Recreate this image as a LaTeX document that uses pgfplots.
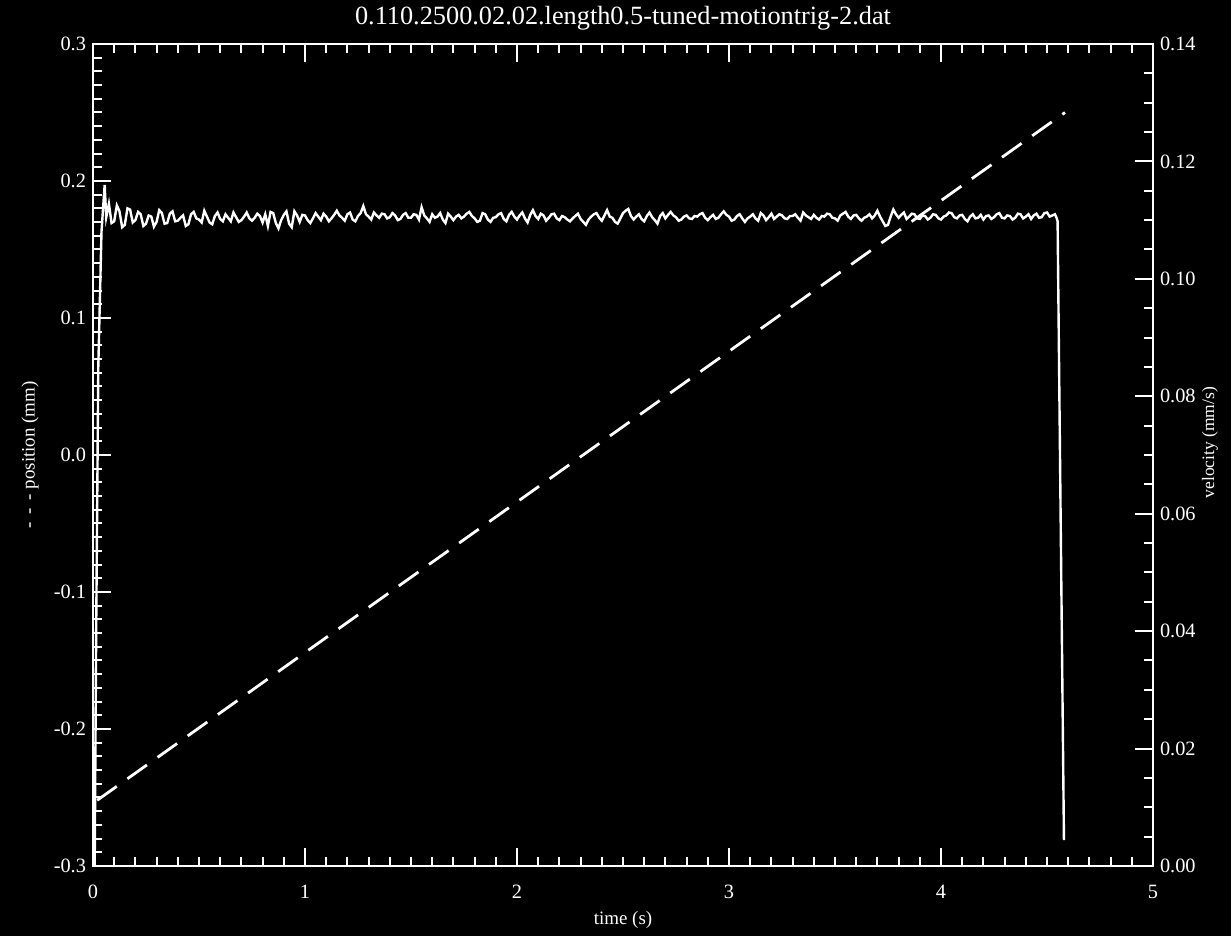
\documentclass[border=0pt]{standalone}
\usepackage{pgfplots}
\pgfplotsset{compat=1.18}
\usepackage{fontspec}
\setmainfont{Liberation Serif}

\pgfplotsset{
  chart/.style={
    scale only axis, width=530bp, height=411bp,
    xmin=0, xmax=5,
    axis line style={white, line width=1.3bp},
    tick style={white, line width=1bp},
    tick align=inside,
    major tick length=9bp, minor tick length=4.5bp,
    tick label style={white, font=\fontsize{10.2}{12}\selectfont},
    label style={white, font=\fontsize{9.5}{11}\selectfont},
    /pgf/number format/assume math mode=true,
  }
}

\begin{document}
\begin{tikzpicture}
\fill[black] (-46.5bp,-35bp) rectangle (569bp,433bp);

\begin{axis}[chart,
  ymin=-0.3, ymax=0.3,
  xtick={0,1,2,3,4,5}, minor x tick num=9, xtick pos=both, xticklabel pos=bottom,
  ytick={-0.3,-0.2,-0.1,0,0.1,0.2,0.3}, minor y tick num=9, ytick pos=left,
  yticklabel style={/pgf/number format/fixed, /pgf/number format/fixed zerofill,
    /pgf/number format/precision=1},
  xticklabel style={yshift=-6bp},
  every axis title shift=0pt,
  title={0.110.2500.02.02.length0.5-tuned-motiontrig-2.dat},
  title style={white, font=\fontsize{13.2}{15}\selectfont,
    at={(axis description cs:0.5,1.0316)}, anchor=center},
  xlabel={time (s)},
  xlabel style={at={(axis description cs:0.5,-0.0657)}, anchor=center},
  ylabel={-\, -\, - position (mm)},
  ylabel style={at={(axis description cs:-0.0594,0.5)}, anchor=center},
]
% position (mm), dashed
\addplot[white, line width=1.4bp, dash pattern=on 12bp off 6.5bp]
  coordinates {(0.02,-0.252) (4.585,0.250)};
\end{axis}

\begin{axis}[chart,
  ymin=0, ymax=0.14, hide x axis,
  ytick={0,0.02,0.04,0.06,0.08,0.10,0.12,0.14}, minor y tick num=3,
  ytick pos=right, yticklabel pos=right,
  yticklabel style={/pgf/number format/fixed, /pgf/number format/fixed zerofill,
    /pgf/number format/precision=2},
  ylabel={velocity (mm/s)},
  ylabel style={at={(axis description cs:1.0538,0.515)}, anchor=center,
    font=\fontsize{8.8}{10}\selectfont},
]
% velocity (mm/s)
\addplot[white, line width=1.2bp] coordinates {
(0,0)(0.008,0)(0.015,0.040)(0.025,0.085)(0.04,0.108)(0.055,0.116)(0.0625,0.1105)(0.075,0.1128)(0.0875,0.1095)
(0.1,0.1098)(0.1125,0.1125)(0.125,0.1115)(0.1375,0.1088)(0.15,0.1092)(0.1625,0.1120)(0.175,0.1118)(0.1875,0.1096)
(0.2,0.1100)(0.2125,0.1114)(0.225,0.1110)(0.2375,0.1090)(0.25,0.1094)(0.2625,0.1108)(0.275,0.1106)(0.2875,0.1089)
(0.3,0.1097)(0.3125,0.1117)(0.325,0.1112)(0.3375,0.1094)(0.35,0.1095)(0.3625,0.1111)(0.375,0.1115)(0.3875,0.1098)
(0.4,0.1099)(0.4125,0.1104)(0.425,0.1108)(0.4375,0.1090)(0.45,0.1093)(0.4625,0.1110)(0.475,0.1114)(0.4875,0.1103)
(0.5,0.1101)(0.5125,0.1096)(0.525,0.1116)(0.5375,0.1106)(0.55,0.1096)(0.5625,0.1093)(0.575,0.1107)(0.5875,0.1113)
(0.6,0.1102)(0.6125,0.1098)(0.625,0.1110)(0.6375,0.1104)(0.65,0.1098)(0.6625,0.1113)(0.675,0.1105)(0.6875,0.1097)
(0.7,0.1100)(0.7125,0.1106)(0.725,0.1113)(0.7375,0.1103)(0.75,0.1099)(0.7625,0.1104)(0.775,0.1111)(0.7875,0.1107)
(0.8,0.1096)(0.8125,0.1110)(0.825,0.1090)(0.8375,0.1114)(0.85,0.1112)(0.8625,0.1095)(0.875,0.1086)(0.8875,0.1100)
(0.9,0.1109)(0.9125,0.1115)(0.925,0.1094)(0.9375,0.1088)(0.95,0.1115)(0.9625,0.1108)(0.975,0.1097)(0.9875,0.1109)
(1.0,0.1108)(1.0125,0.1100)(1.025,0.1095)(1.0375,0.1103)(1.05,0.1112)(1.0625,0.1106)(1.075,0.1100)(1.0875,0.1111)
(1.1,0.1106)(1.1125,0.1098)(1.125,0.1103)(1.1375,0.1109)(1.15,0.1116)(1.1625,0.1108)(1.175,0.1104)(1.1875,0.1099)
(1.2,0.1110)(1.2125,0.1113)(1.225,0.1101)(1.2375,0.1098)(1.25,0.1107)(1.2625,0.1112)(1.275,0.1124)(1.2875,0.1110)
(1.3,0.1106)(1.3125,0.1101)(1.325,0.1113)(1.3375,0.1108)(1.35,0.1104)(1.3625,0.1111)(1.375,0.1110)(1.3875,0.1103)
(1.4,0.1105)(1.4125,0.1112)(1.425,0.1108)(1.4375,0.1100)(1.45,0.1102)(1.4625,0.1109)(1.475,0.1112)(1.4875,0.1104)
(1.5,0.1104)(1.5125,0.1110)(1.525,0.1109)(1.5375,0.1101)(1.55,0.1122)(1.5625,0.1108)(1.575,0.1103)(1.5875,0.1097)
(1.6,0.1110)(1.6125,0.1104)(1.625,0.1106)(1.6375,0.1112)(1.65,0.1101)(1.6625,0.1095)(1.675,0.1111)(1.6875,0.1106)
(1.7,0.1100)(1.7125,0.1106)(1.725,0.1109)(1.7375,0.1103)(1.75,0.1106)(1.7625,0.1111)(1.775,0.1114)(1.7875,0.1107)
(1.8,0.1103)(1.8125,0.1097)(1.825,0.1099)(1.8375,0.1112)(1.85,0.1110)(1.8625,0.1101)(1.875,0.1097)(1.8875,0.1104)
(1.9,0.1105)(1.9125,0.1110)(1.925,0.1112)(1.9375,0.1102)(1.95,0.1098)(1.9625,0.1109)(1.975,0.1114)(1.9875,0.1106)
(2.0,0.1101)(2.0125,0.1108)(2.025,0.1113)(2.0375,0.1103)(2.05,0.1096)(2.0625,0.1109)(2.075,0.1117)(2.0875,0.1107)
(2.1,0.1102)(2.1125,0.1111)(2.125,0.1108)(2.1375,0.1099)(2.15,0.1104)(2.1625,0.1110)(2.175,0.1111)(2.1875,0.1103)
(2.2,0.1100)(2.2125,0.1107)(2.225,0.1105)(2.2375,0.1101)(2.25,0.1098)(2.2625,0.1103)(2.275,0.1107)(2.2875,0.1111)
(2.3,0.1102)(2.3125,0.1097)(2.325,0.1092)(2.3375,0.1101)(2.35,0.1106)(2.3625,0.1110)(2.375,0.1112)(2.3875,0.1104)
(2.4,0.1099)(2.4125,0.1108)(2.425,0.1117)(2.4375,0.1106)(2.45,0.1104)(2.4625,0.1097)(2.475,0.1094)(2.4875,0.1103)
(2.5,0.1112)(2.5125,0.1116)(2.525,0.1119)(2.5375,0.1107)(2.55,0.1101)(2.5625,0.1106)(2.575,0.1110)(2.5875,0.1102)
(2.6,0.1098)(2.6125,0.1107)(2.625,0.1113)(2.6375,0.1105)(2.65,0.1100)(2.6625,0.1094)(2.675,0.1107)(2.6875,0.1112)
(2.7,0.1103)(2.7125,0.1109)(2.725,0.1114)(2.7375,0.1108)(2.75,0.1105)(2.7625,0.1099)(2.775,0.1101)(2.7875,0.1106)
(2.8,0.1108)(2.8125,0.1103)(2.825,0.1102)(2.8375,0.1107)(2.85,0.1106)(2.8625,0.1110)(2.875,0.1112)(2.8875,0.1104)
(2.9,0.1100)(2.9125,0.1105)(2.925,0.1109)(2.9375,0.1102)(2.95,0.1104)(2.9625,0.1110)(2.975,0.1115)(2.9875,0.1109)
(3.0,0.1106)(3.0125,0.1099)(3.025,0.1101)(3.0375,0.1107)(3.05,0.1110)(3.0625,0.1103)(3.075,0.1097)(3.0875,0.1103)
(3.1,0.1106)(3.1125,0.1110)(3.125,0.1103)(3.1375,0.1099)(3.15,0.1112)(3.1625,0.1108)(3.175,0.1100)(3.1875,0.1105)
(3.2,0.1111)(3.2125,0.1102)(3.225,0.1106)(3.2375,0.1110)(3.25,0.1108)(3.2625,0.1103)(3.275,0.1102)(3.2875,0.1107)
(3.3,0.1107)(3.3125,0.1110)(3.325,0.1104)(3.3375,0.1099)(3.35,0.1113)(3.3625,0.1108)(3.375,0.1105)(3.3875,0.1102)
(3.4,0.1109)(3.4125,0.1104)(3.425,0.1101)(3.4375,0.1107)(3.45,0.1106)(3.4625,0.1111)(3.475,0.1110)(3.4875,0.1104)
(3.5,0.1103)(3.5125,0.1099)(3.525,0.1108)(3.5375,0.1111)(3.55,0.1114)(3.5625,0.1106)(3.575,0.1102)(3.5875,0.1108)
(3.6,0.1109)(3.6125,0.1103)(3.625,0.1099)(3.6375,0.1104)(3.65,0.1106)(3.6625,0.1110)(3.675,0.1103)(3.6875,0.1108)
(3.7,0.1116)(3.7125,0.1106)(3.725,0.1098)(3.7375,0.1090)(3.75,0.1092)(3.7625,0.1106)(3.775,0.1118)(3.7875,0.1110)
(3.8,0.1104)(3.8125,0.1109)(3.825,0.1113)(3.8375,0.1102)(3.85,0.1106)(3.8625,0.1111)(3.875,0.1110)(3.8875,0.1103)
(3.9,0.1102)(3.9125,0.1108)(3.925,0.1107)(3.9375,0.1101)(3.95,0.1104)(3.9625,0.1110)(3.975,0.1109)(3.9875,0.1103)
(4.0,0.1101)(4.0125,0.1106)(4.025,0.1108)(4.0375,0.1113)(4.05,0.1112)(4.0625,0.1105)(4.075,0.1103)(4.0875,0.1108)
(4.1,0.1109)(4.1125,0.1102)(4.125,0.1098)(4.1375,0.1106)(4.15,0.1110)(4.1625,0.1103)(4.175,0.1104)(4.1875,0.1109)
(4.2,0.1101)(4.2125,0.1107)(4.225,0.1108)(4.2375,0.1102)(4.25,0.1105)(4.2625,0.1110)(4.275,0.1112)(4.2875,0.1104)
(4.3,0.1103)(4.3125,0.1108)(4.325,0.1107)(4.3375,0.1101)(4.35,0.1104)(4.3625,0.1111)(4.375,0.1110)(4.3875,0.1103)
(4.4,0.1106)(4.4125,0.1110)(4.425,0.1102)(4.4375,0.1108)(4.45,0.1111)(4.4625,0.1104)(4.475,0.1105)(4.4875,0.1112)
(4.5,0.1113)(4.5125,0.1106)(4.525,0.1108)(4.5375,0.1110)(4.545,0.1104)(4.55,0.1098)(4.58,0.0044)
};
\end{axis}

\pgfresetboundingbox
\useasboundingbox (-46.5bp,-35bp) rectangle (569bp,433bp);
\end{tikzpicture}
\end{document}
